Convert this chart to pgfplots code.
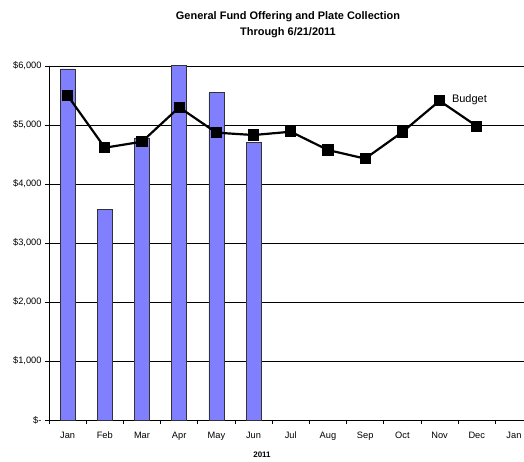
\documentclass[border=0pt]{standalone}
\usepackage{pgfplots}
\pgfplotsset{compat=1.18}
\usepackage{fontspec}
\setmainfont{Liberation Sans}
\definecolor{barblue}{RGB}{128,128,255}
\begin{document}
\begin{tikzpicture}
\useasboundingbox (0,0) rectangle (524bp,462bp);
\begin{axis}[
  at={(49bp,42bp)}, anchor=south west,
  scale only axis, width=475bp, height=354bp,
  xmin=0.5, xmax=13.27, ymin=0, ymax=6000,
  axis x line*=bottom, axis y line*=left,
  axis line style={black, line width=1pt},
  xtick={1,...,13},
  xticklabels={Jan,Feb,Mar,Apr,May,Jun,Jul,Aug,Sep,Oct,Nov,Dec,Jan},
  major x tick style={draw=none},
  minor xtick={0.5,1.5,...,12.5},
  minor x tick style={black, line width=0.8pt},
  minor tick length=4bp,
  ytick={0,1000,...,6000},
  yticklabels={\$-,{\$1,000},{\$2,000},{\$3,000},{\$4,000},{\$5,000},{\$6,000}},
  y tick style={black, line width=0.8pt},
  major tick length=4bp,
  tick align=outside,
  ymajorgrids, grid style={black, line width=0.6pt},
  tick label style={font=\fontsize{9.3}{10}\selectfont},
  xticklabel style={text height=1.6ex, text depth=0.3ex, yshift=-3bp},
  /pgf/number format/assume math mode=true,
]
\addplot[ybar, bar width=15bp, fill=barblue, draw=black!80, line width=0.6pt] coordinates {
(1,5950) (2,3575) (3,4780) (4,6020) (5,5550) (6,4700)
};
\addplot[black, line width=2.2pt, mark=square*, mark size=4.5bp, mark options={solid}] coordinates {
(1,5500) (2,4615) (3,4717) (4,5300) (5,4870) (6,4830) (7,4886) (8,4576) (9,4430) (10,4880) (11,5410) (12,4980)
};
\node[anchor=west, font=\fontsize{11}{12}\selectfont] at (axis cs:11,5410) [xshift=9bp, yshift=1bp] {Budget};
\end{axis}
\node[align=center, font=\bfseries\fontsize{11}{16}\selectfont] at (288bp,437bp) {General Fund Offering and Plate Collection\\Through 6/21/2011};
\node[font=\bfseries\fontsize{8}{9}\selectfont] at (262bp,7bp) {2011};
\end{tikzpicture}
\end{document}
